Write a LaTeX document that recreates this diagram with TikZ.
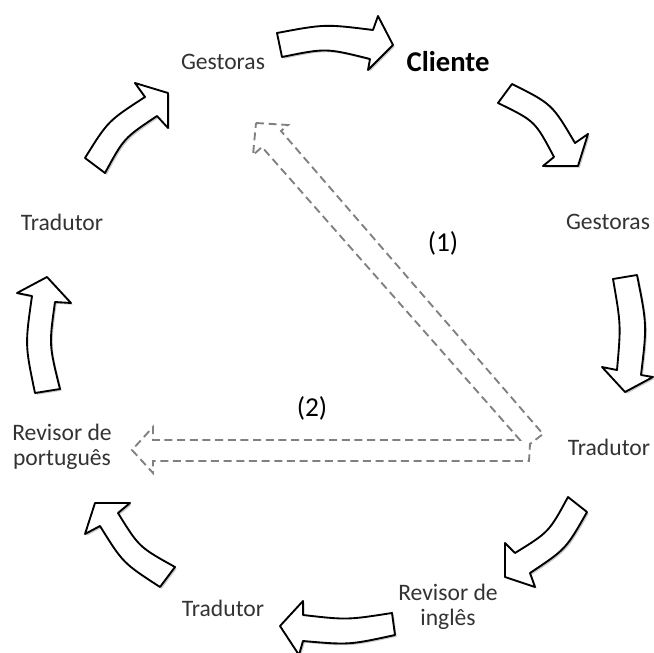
\documentclass[tikz,border=0pt]{standalone}
\usepackage{fontspec}
\setmainfont{Carlito}
\usetikzlibrary{shadows}
\begin{document}
\begin{tikzpicture}[x=0.75pt,y=-0.75pt,
  lbl/.style={font=\fontsize{17.7}{19}\selectfont, inner sep=0pt, align=center, text=black!80},
  numl/.style={font=\fontsize{20.5}{22}\selectfont, inner sep=0pt, text=black},
  bigl/.style={font=\fontsize{21.5}{24}\selectfont\bfseries, inner sep=0pt, text=black},
  blockarrow/.style={draw=black, fill=white, line width=1.4pt, line join=round,
    drop shadow={shadow xshift=1.3pt, shadow yshift=-1.3pt, opacity=0.22, fill=black}},
  dasharrow/.style={draw=black!50, line width=1.4pt, dash pattern=on 6pt off 3.5pt, line join=miter}
]
\useasboundingbox (0,0) rectangle (654,653);

% labels
\node[lbl] (g1) at (223,62) {Gestoras};
\node[bigl] (cl) at (448,62) {Cliente};
\node[lbl] (g2) at (608,222) {Gestoras};
\node[lbl] (t1) at (609,447) {Tradutor};
\node[lbl] (ri) at (448,607) {Revisor de\\ingl\^es};
\node[lbl] (t2) at (223,608) {Tradutor};
\node[lbl] (rp) at (62,447) {Revisor de\\portugu\^es};
\node[lbl] (t3) at (62,222) {Tradutor};
\node[numl] (n1) at (443,243) {(1)};
\node[numl] (n2) at (312,408) {(2)};

% block arrows
\path[blockarrow] (277,33) .. controls (325,24) .. (373,30) -- (378,16) -- (393,45) -- (368,70) -- (370,59) .. controls (326,48) .. (282,57) -- cycle;
\path[blockarrow] (512,84) .. controls (552,104) .. (575,143) -- (588,134) -- (578,166) -- (543,166) -- (554,157) .. controls (535,121) .. (498,103) -- cycle;
\path[blockarrow] (637,275) .. controls (647,325) .. (641,375) -- (653,377) -- (625,392) -- (602,367) -- (617,370) .. controls (621,325) .. (613,279) -- cycle;
\path[blockarrow] (587,512) .. controls (566,549) .. (530,573) -- (535,587) -- (505,577) -- (505,543) -- (515,553) .. controls (549,532) .. (568,497) -- cycle;
\path[blockarrow] (395,635) .. controls (349,645) .. (303,641) -- (299,655) -- (280,626) -- (303,601) -- (303,615) .. controls (347,620) .. (392,613) -- cycle;
\path[blockarrow] (160,587) .. controls (123,563) .. (100,526) -- (85,534) -- (95,503) -- (130,503) -- (118,513) .. controls (139,547) .. (175,567) -- cycle;
\path[blockarrow] (35,393) .. controls (25,345) .. (32,296) -- (17,293) -- (47,277) -- (71,303) -- (55,302) .. controls (49,345) .. (60,389) -- cycle;
\path[blockarrow] (85,158) .. controls (108,121) .. (145,97) -- (135,83) -- (168,93) -- (168,128) -- (157,116) .. controls (124,138) .. (105,173) -- cycle;

% dashed double arrows (1) and (2)
\draw[dasharrow] (256,123) -- (288,125) -- (281,131) -- (543,434) -- (530,444) -- (529,461) -- (153,461) -- (153,473) -- (132,450) -- (153,427) -- (153,440) -- (520,440) -- (262,147) -- (253,155) -- cycle;
\end{tikzpicture}
\end{document}
